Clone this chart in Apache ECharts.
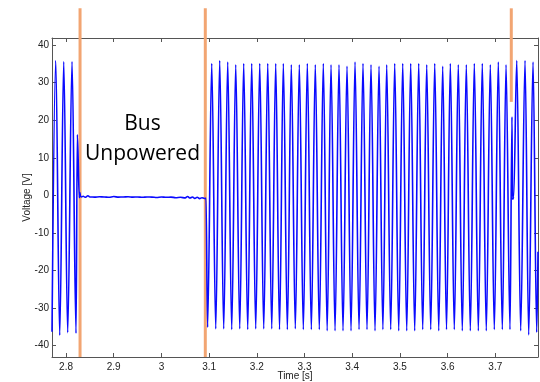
<!DOCTYPE html>
<html>
<head>
<meta charset="utf-8">
<script src="https://cdn.jsdelivr.net/npm/echarts@6/dist/echarts.min.js"></script>
<style>
  html, body { margin: 0; padding: 0; background: #fff; }
  #chart { width: 540px; height: 382px; }
</style>
</head>
<body>
<div id="chart"></div>
<script>
  // tick labels
  var xTicks = [2.8, 2.9, 3, 3.1, 3.2, 3.3, 3.4, 3.5, 3.6, 3.7]
  var yTicks = [-40, -30, -20, -10, 0, 10, 20, 30, 40]

  // bus powered, before the cut
  var tBefore = [2.7706, 2.7784, 2.7868, 2.7952, 2.8035, 2.8126, 2.8210, 2.8237, 2.8279, 2.8290, 2.8305]
  var vBefore = [-36.3, 35.9, -37.2, 35.6, -36.5, 35.6, -36.7, 16.2, -0.6, 0.8, -0.3]

  // bus unpowered
  var tOff = [2.832, 2.836, 2.840, 2.846, 2.850, 2.860, 2.870, 2.880, 2.890, 2.900, 2.910, 2.920, 2.930,
    2.940, 2.950, 2.960, 2.970, 2.980, 2.990, 3.000, 3.010, 3.020, 3.030, 3.040, 3.050, 3.055, 3.060,
    3.065, 3.070, 3.075, 3.080, 3.085, 3.090, 3.0935]
  var vOff = [-0.4, -0.2, -0.5, -0.1, -0.4, -0.45, -0.35, -0.4, -0.5, -0.3, -0.45, -0.4, -0.35,
    -0.45, -0.4, -0.5, -0.4, -0.45, -0.55, -0.4, -0.5, -0.45, -0.6, -0.5, -0.65, -0.3, -0.7,
    -0.4, -0.8, -0.5, -0.85, -0.6, -0.8, -0.75]

  // power restored
  var tOn = [3.0968, 3.1055, 3.1139, 3.1222, 3.1306, 3.1390, 3.1474, 3.1558, 3.1642, 3.1725, 3.1809,
    3.1893, 3.1977, 3.2061, 3.2145, 3.2229, 3.2313, 3.2396, 3.2476, 3.2556, 3.2640, 3.2723, 3.2807,
    3.2891, 3.2975, 3.3059, 3.3143, 3.3226, 3.3310, 3.3394, 3.3475, 3.3556, 3.3640, 3.3723, 3.3807,
    3.3891, 3.3975, 3.4059, 3.4143, 3.4226, 3.4310, 3.4394, 3.4478, 3.4562, 3.4643, 3.4723, 3.4807,
    3.4891, 3.4975, 3.5059, 3.5143, 3.5226, 3.5310, 3.5394, 3.5478, 3.5562, 3.5646, 3.5730, 3.5814,
    3.5897, 3.5977, 3.6057, 3.6140, 3.6224, 3.6308, 3.6392, 3.6476, 3.6560, 3.6644, 3.6727, 3.6811,
    3.6895, 3.6979, 3.7063, 3.7147, 3.7225, 3.7308]
  var vOn = [-35.1, 35.1, -35.5, 35.9, -35.5, 35.5, -35.7, 34.8, -35.5, 35.1, -35.7,
    35.1, -35.5, 35.1, -35.5, 35.1, -35.5, 35.1, -35.7, 35.1, -35.7, 34.8, -35.5,
    34.8, -35.7, 35.1, -35.7, 34.8, -35.7, 35.1, -36.0, 34.8, -36.0, 34.8, -36.0,
    34.4, -36.0, 35.5, -35.7, 35.1, -35.7, 34.8, -36.0, 34.4, -35.7, 34.8, -35.7,
    35.1, -36.0, 35.1, -36.0, 35.1, -36.0, 35.1, -35.7, 34.8, -35.7, 35.1, -36.0,
    34.4, -35.7, 35.1, -35.7, 34.8, -36.0, 34.8, -36.0, 35.1, -36.0, 35.1, -36.0,
    34.8, -35.7, 35.5, -35.7, 34.8, -35.7]

  // glitch near 3.73 s and the rest
  var tGlitch = [3.7350, 3.7358, 3.7368, 3.7385, 3.7450, 3.7532, 3.7623, 3.7700, 3.7791, 3.7868, 3.7895]
  var vGlitch = [20.9, -0.4, -1.0, -0.3, 35.9, -36.0, 35.9, -37.1, 35.5, -36.4, -15]

  // orange markers
  var markTime = [2.8294, 3.0920, 3.7335]
  var markLow = [-43, -43, 24.9]
  var markHigh = [49.8, 49.8, 49.8]

  function zip(t, v) {
    return t.map(function (x, i) { return [x, v[i]] })
  }

  var trace = [].concat(zip(tBefore, vBefore), zip(tOff, vOff), zip(tOn, vOn), zip(tGlitch, vGlitch))

  var axisColor = '#555'
  var font = 'Liberation Sans'

  var markerSeries = markTime.map(function (t, i) {
    return {
      type: 'line',
      data: [[t, markLow[i]], [t, markHigh[i]]],
      clip: false,
      symbol: 'none',
      silent: true,
      z: 1,
      lineStyle: { color: '#f2a572', width: 3 }
    }
  })

  function boxAxis(extra) {
    var ax = {
      type: 'value',
      axisLine: { show: true, onZero: false, lineStyle: { color: axisColor } },
      axisTick: { show: true, inside: true, length: 4, lineStyle: { color: axisColor } },
      axisLabel: { show: false },
      splitLine: { show: false }
    }
    return Object.assign(ax, extra)
  }

  var chart = echarts.init(document.getElementById('chart'))
  chart.setOption({
    animation: false,
    grid: { left: 52, right: 2, top: 38, bottom: 25, outerBoundsMode: 'none', containLabel: false },
    xAxis: [boxAxis({
      position: 'bottom',
      min: 2.7706,
      max: 3.7895,
      name: 'Time [s]',
      nameLocation: 'middle',
      nameGap: 14,
      nameMoveOverlap: false,
      nameTextStyle: { fontFamily: font, fontSize: 10, color: '#222' },
      axisTick: { show: true, inside: true, length: 4, customValues: xTicks, lineStyle: { color: axisColor } },
      axisLabel: { customValues: xTicks, fontFamily: font, fontSize: 10, color: '#222', margin: 5 }
    }), boxAxis({
      position: 'top',
      min: 2.7706,
      max: 3.7895,
      axisTick: { show: true, inside: true, length: 4, customValues: xTicks, lineStyle: { color: axisColor } }
    })],
    yAxis: [boxAxis({
      position: 'left',
      min: -43,
      max: 41.9,
      name: 'Voltage [V]',
      nameLocation: 'middle',
      nameGap: 20,
      nameRotate: 90,
      nameMoveOverlap: false,
      nameTextStyle: { fontFamily: font, fontSize: 10, color: '#222' },
      axisTick: { show: true, inside: true, length: 4, customValues: yTicks, lineStyle: { color: axisColor } },
      axisLabel: { customValues: yTicks, fontFamily: font, fontSize: 10, color: '#222', margin: 3 }
    }), boxAxis({
      position: 'right',
      min: -43,
      max: 41.9,
      axisTick: { show: true, inside: true, length: 4, customValues: yTicks, lineStyle: { color: axisColor } }
    })],
    graphic: [{
      type: 'text',
      z: 10,
      style: { x: 142.5, y: 124.5, text: 'Bus', textAlign: 'center', textVerticalAlign: 'middle',
        font: '21px "Open Sans"', fill: '#000' }
    }, {
      type: 'text',
      z: 10,
      style: { x: 142.5, y: 154.5, text: 'Unpowered', textAlign: 'center', textVerticalAlign: 'middle',
        font: '21px "Open Sans"', fill: '#000' }
    }],
    series: markerSeries.concat([{
      name: 'Voltage',
      type: 'line',
      data: trace,
      symbol: 'none',
      sampling: null,
      smooth: 0.35,
      smoothMonotone: 'x',
      z: 2,
      lineStyle: { color: '#0a0aff', width: 1.6 }
    }])
  })
</script>
</body>
</html>
